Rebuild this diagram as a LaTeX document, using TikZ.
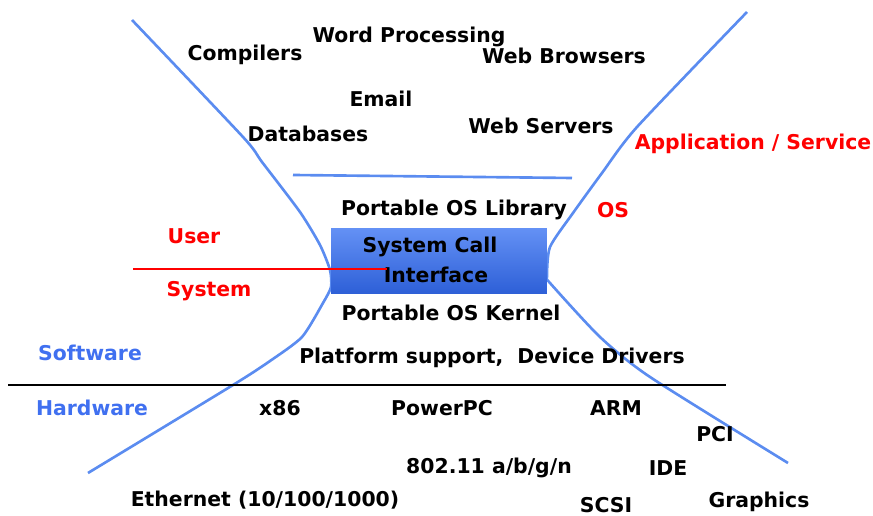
\documentclass[tikz,border=0pt]{standalone}
\usepackage{fontspec}
\setmainfont{DejaVu Sans}
\usetikzlibrary{positioning}
\usetikzlibrary{calc}

\definecolor{waist}{RGB}{91,140,240}
\definecolor{layer}{RGB}{64,112,240}
\definecolor{boxtop}{RGB}{100,145,245}
\definecolor{boxbot}{RGB}{45,95,215}

\tikzset{
  lbl/.style={inner sep=0pt,font=\fontsize{11.6}{13}\selectfont\bfseries},
  redlbl/.style={lbl,text=red},
  bluelbl/.style={lbl,text=layer},
  waistline/.style={draw=waist,line width=1.5pt},
  callbox/.style={lbl,rectangle,top color=boxtop,bottom color=boxbot,draw=none,
    minimum width=4.32cm,minimum height=1.32cm,align=center}
}

\begin{document}
\begin{tikzpicture}[x=0.02cm,y=-0.02cm]
\useasboundingbox (0,0) rectangle (873,516);

% the hourglass
\draw[waistline] plot[smooth,tension=0.4] coordinates {(132,20) (243,137) (262,162) (300,212) (320,245) (330,270) (331,287) (323,303) (302,337) (270,361) (233,385) (88,473)};
\draw[waistline] plot[smooth,tension=0.4] coordinates {(747,12) (637,127) (602,173) (573,213) (550,247) (547,277) (550,283) (600,337) (650,377) (788,463)};

\coordinate(libL) at (293,175);
\coordinate(libR) at (572,178);
\draw[waistline] (libL) -- (libR);

\coordinate(hwL) at (8,385);
\coordinate(hwR) at (726,385);
\draw[line width=1.7pt] (hwL) -- (hwR);

\node[callbox](sci) at (439,261){};
\node[lbl](sciA) at (430,247){System Call};
\node[lbl](sciB) at (436,275){Interface};

\coordinate(userL) at (133,269);
\coordinate(userR) at (387,269);
\draw[red,line width=1.7pt] (userL) -- (userR);

% applications
\node[lbl](comp) at (245,55){Compilers};
\node[lbl](word) at (409,37){Word Processing};
\node[lbl](browser) at (564,56){Web Browsers};
\node[lbl](email) at (381,99){Email};
\node[lbl](db) at (308,134){Databases};
\node[lbl](server) at (541,126){Web Servers};
\node[redlbl](app) at (753,144){Application / Service};

% os
\node[lbl](oslib) at (454,210){Portable OS Library};
\node[redlbl](os) at (613,210){OS};
\node[redlbl](user) at (194,236){User};
\node[redlbl](sys) at (209,291){System};
\node[lbl](kernel) at (451,313){Portable OS Kernel};
\node[bluelbl](sw) at (90,353){Software};
\node[lbl](drivers) at (492,358){Platform support,\ \ Device Drivers};

% hardware
\node[bluelbl](hw) at (92,408){Hardware};
\node[lbl](x86) at (280,408){x86};
\node[lbl](ppc) at (442,408){PowerPC};
\node[lbl](arm) at (616,408){ARM};
\node[lbl](pci) at (715,434){PCI};
\node[lbl](wifi) at (489,468){802.11 a/b/g/n};
\node[lbl](ide) at (668,468){IDE};
\node[lbl](eth) at (265,500){Ethernet (10/100/1000)};
\node[lbl](scsi) at (606,505){SCSI};
\node[lbl](gfx) at (759,502){Graphics};
\end{tikzpicture}
\end{document}
